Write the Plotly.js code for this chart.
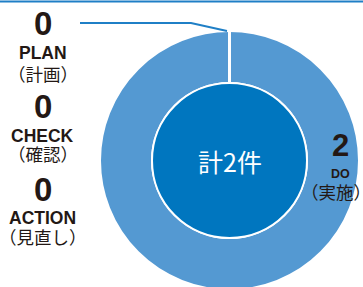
<!DOCTYPE html>
<html><head><meta charset="utf-8">
<script src="https://cdn.plot.ly/plotly-3.0.1.min.js"></script>
<style>html,body{margin:0;padding:0;overflow:hidden;background:#fff;width:363px;height:287px}#c{width:363px;height:321px}</style>
</head><body><div id="c"></div>
<script>
const categories = ['PLAN', 'DO', 'CHECK', 'ACTION'];
const jpLabels = ['（計画）', '（実施）', '（確認）', '（見直し）'];
const values = [0, 2, 0, 0];
const totalPrefix = '計';
const totalSuffix = '件';

const W = 363, H = 321;
const px = x => x / W;
const py = y => 1 - y / H;
const total = values.reduce((a, b) => a + b, 0);

const ringColor = '#5499d2';
const innerColor = '#0076bf';
const ink = '#231815';
const lineBlue = '#1f7fc6';

const cx = 229.5, cy = 160.5, R = 129.5, r = 77.5;

const traces = [
  {
    type: 'pie', labels: categories, values: values, hole: r / R, sort: false,
    direction: 'clockwise', rotation: 0,
    marker: {colors: categories.map(() => ringColor), line: {color: '#fff', width: 2}},
    textinfo: 'none', hoverinfo: 'skip', showlegend: false,
    domain: {x: [px(cx - R), px(cx + R)], y: [0, 1]}
  },
  {
    type: 'pie', labels: ['total'], values: [total], sort: false,
    marker: {colors: [innerColor], line: {color: '#fff', width: 2}},
    textinfo: 'none', hoverinfo: 'skip', showlegend: false,
    domain: {x: [px(cx - r), px(cx + r)], y: [py(cy + r), py(cy - r)]}
  }
];

// layout positions: [x center, digit y, label y, jp y, jp x]
const groupPos = {
  PLAN:   [42.5, 23.5, 53, 73.5, 42.5],
  CHECK:  [42.5, 107, 135.5, 153.5, 42.5],
  ACTION: [42.5, 190, 217.5, 236, 42.5],
  DO:     [340.5, 145.5, 174, 192, 336]
};
const annotations = [];
categories.forEach((c, i) => {
  const [gx, dy, ly, jy, jx] = groupPos[c];
  const isDo = c === 'DO';
  annotations.push({x: px(gx), y: py(dy), xref: 'paper', yref: 'paper', text: '<b>' + values[i] + '</b>', showarrow: false,
    xanchor: 'center', yanchor: 'middle', font: {family: 'Liberation Sans, Arial', size: isDo ? 31 : 33, color: ink}});
  annotations.push({x: px(gx), y: py(ly), xref: 'paper', yref: 'paper', text: '<b>' + c + '</b>', showarrow: false,
    xanchor: 'center', yanchor: 'middle', font: {family: 'Liberation Sans, Arial', size: isDo ? 12.5 : 17.5, color: ink}});
  annotations.push({x: px(jx), y: py(jy), xref: 'paper', yref: 'paper', text: jpLabels[i], showarrow: false,
    xanchor: 'center', yanchor: 'middle', font: {family: 'Noto Sans CJK JP', size: 17.5, color: ink}});
});
annotations.push({x: px(cx), y: py(cy), xref: 'paper', yref: 'paper', text: totalPrefix + total + totalSuffix, showarrow: false,
  xanchor: 'center', yanchor: 'middle', font: {family: 'Noto Sans CJK JP', size: 25, color: '#fff'}});

const shapes = [
  {type: 'line', xref: 'paper', yref: 'paper', x0: 0, x1: 1, y0: py(1.5), y1: py(1.5), line: {color: lineBlue, width: 2}},
  {type: 'line', xref: 'paper', yref: 'paper', x0: px(cx), x1: px(cx), y0: py(cy - R - 1), y1: py(cy - r), line: {color: '#fff', width: 3}},
  {type: 'path', xref: 'paper', yref: 'paper', path: 'M ' + px(80) + ' ' + py(23) + ' L ' + px(191) + ' ' + py(23) + ' L ' + px(227) + ' ' + py(31),
    line: {color: lineBlue, width: 2}}
];

Plotly.newPlot('c', traces, {
  width: W, height: H, margin: {l: 0, r: 0, t: 0, b: 0},
  paper_bgcolor: '#fff', showlegend: false, annotations: annotations, shapes: shapes
}, {staticPlot: true, displayModeBar: false});
</script></body></html>
